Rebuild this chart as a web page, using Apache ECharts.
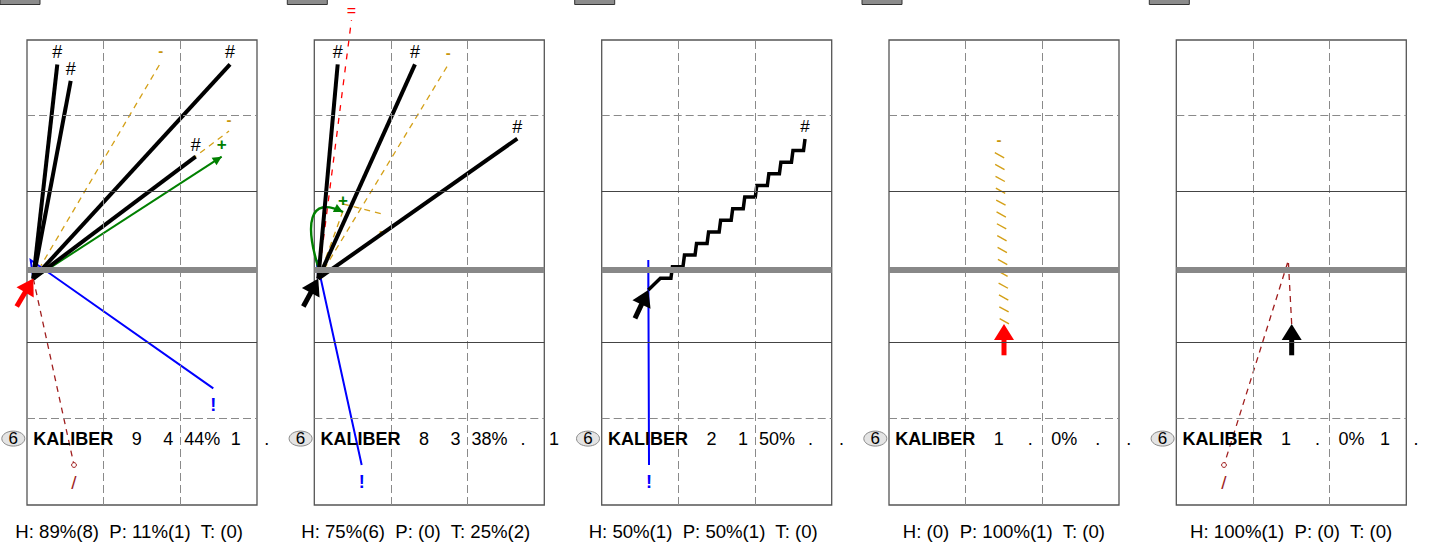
<!DOCTYPE html>
<html><head><meta charset="utf-8">
<script src="https://cdn.jsdelivr.net/npm/echarts@6.0.0/dist/echarts.min.js"></script>
<style>html,body{margin:0;padding:0;background:#fff}#c{width:1430px;height:546px}</style>
</head><body><div id="c"></div>
<script>
// ---------------- data ----------------
const rowTitle = 'KALIBER';
const rowBadge = '6';
const rowStats = [
  ['9', '4', '44%', '1', '.'],
  ['8', '3', '38%', '.', '1'],
  ['2', '1', '50%', '.', '.'],
  ['1', '.', '0%', '.', '.'],
  ['1', '.', '0%', '1', '.']
];
const summaryH = ['89%(8)', '75%(6)', '50%(1)', '(0)', '100%(1)'];
const summaryP = ['11%(1)', '(0)', '50%(1)', '100%(1)', '(0)'];
const summaryT = ['(0)', '25%(2)', '(0)', '(0)', '(0)'];

// field lines (field units: x 0..30, y -1.5..60)
const fieldLineY = [10, 20, 29.6, 40, 50];
const fieldLineYKind = ['dashed', 'solid', 'thick', 'solid', 'dashed'];
const fieldLineX = [10, 20];

// paths: [panel, x1, y1, x2, y2, ...]
const shotPaths = [
  [0, 0.82, 28.44, 3.95, 56.77],
  [0, 0.82, 28.44, 5.70, 54.6],
  [0, 0.82, 28.44, 26.48, 56.77],
  [0, 0.82, 28.44, 22.0, 44.57],
  [1, 0.52, 28.44, 3.05, 56.77],
  [1, 0.52, 28.44, 13.13, 56.77],
  [1, 0.52, 28.44, 26.48, 46.96]
];
const passPaths = [
  [0, 0.82, 28.44, 17.44, 57.0],
  [0, 0.82, 28.44, 26.35, 47.96],
  [1, 0.52, 28.44, 17.48, 56.77],
  [1, 0.52, 28.44, 3.74, 37.38],
  [1, 3.74, 38.31, 8.79, 36.99]
];
const crossPaths = [
  [0, 0.82, 28.44, 25.39, 44.57]
];
// curved cross: start, control 1, control 2, end
const curvedCrossPaths = [
  [1, 0.55, 29.85, -1.21, 35.53, -0.82, 39.5, 3.74, 37.25]
];
const bluePaths = [
  [0, 0.82, 28.44, 0.48, 30.9, 24.3, 13.92],
  [1, 0.52, 28.44, 0.31, 30.9, 6.18, 3.79],
  [2, 6.08, 26.94, 6.08, 30.9, 6.17, 3.79]
];
const liftPaths = [
  [1, 0.52, 28.44, 0.81, 30.64, 4.85, 62.65]
];
const darkPaths = [
  [0, 0.82, 28.44, 6.13, 3.79],
  [4, 15.05, 22.44, 14.61, 30.84, 6.22, 3.79]
];
const dribblePaths = [
  [2, 6.08, 26.94, 26.52, 46.91]
];
const dashedDribblePaths = [
  [3, 15.0, 22.44, 14.35, 45.19]
];
const redCarries = [
  [0, -1.34, 24.75, 0.82, 28.44],
  [3, 15.0, 18.3, 15.0, 22.44]
];
const blackCarries = [
  [1, -1.43, 24.75, 0.52, 28.44],
  [2, 4.34, 23.19, 6.08, 26.94],
  [4, 15.05, 18.3, 15.05, 22.44]
];

// ---------------- styles / layout ----------------
const FONT = '"Liberation Sans", Arial, Helvetica, sans-serif';
const ORANGE = '#D4A017';
const kinds = [
  { list: passPaths, stroke: ORANGE, width: 1.3, dash: [6, 5], label: '-', labelColor: '#C8960C', labelFont: 'bold 15px ' + FONT },
  { list: darkPaths, stroke: '#A01E1E', width: 1.3, dash: [6, 5], label: '/', labelColor: '#A01E1E', labelFont: '19px ' + FONT, endCircle: true },
  { list: liftPaths, stroke: '#FF0000', width: 1.3, dash: [6, 7], label: '=', labelColor: '#FF0000', labelFont: '16px ' + FONT },
  { list: bluePaths, stroke: '#0000FF', width: 2, label: '!', labelColor: '#0000FF', labelFont: 'bold 18px ' + FONT },
  { list: crossPaths, stroke: '#008000', width: 2, arrow: true, label: '+', labelColor: '#008000', labelFont: 'bold 17px ' + FONT },
  { list: curvedCrossPaths, stroke: '#008000', width: 2.4, arrow: true, curve: true, label: '+', labelColor: '#008000', labelFont: 'bold 17px ' + FONT },
  { list: shotPaths, stroke: '#000000', width: 4, label: '#', labelColor: '#000', labelFont: '18px ' + FONT },
  { list: dribblePaths, stroke: '#000000', width: 3.5, stair: true, label: '#', labelColor: '#000', labelFont: '17px ' + FONT },
  { list: dashedDribblePaths, stroke: ORANGE, width: 1.4, wave: true, label: '-', labelColor: '#C8960C', labelFont: 'bold 15px ' + FONT },
  { list: redCarries, stroke: '#FF0000', bigArrow: true },
  { list: blackCarries, stroke: '#000000', bigArrow: true }
];

const panelLeft = [27, 314.3, 601.7, 889, 1176.3];
const GRID_TOP = 40, GRID_W = 230, GRID_H = 465;

function stairs(A, B) {
  const dx = B[0] - A[0], dy = B[1] - A[1];
  const n = Math.max(2, Math.round(Math.hypot(dx, dy) / 16.5));
  const sx = dx / n, sy = dy / n;
  const pts = [A, [A[0] + sx, A[1] + sy]];
  for (let i = 1; i < n; i++) {
    pts.push([A[0] + (i + 1) * sx - 1.5, A[1] + i * sy]);
    pts.push([A[0] + (i + 1) * sx, A[1] + (i + 1) * sy]);
  }
  return pts;
}
function wave(A, B, amp, half) {
  const dx = B[0] - A[0], dy = B[1] - A[1];
  const len = Math.hypot(dx, dy);
  const ux = dx / len, uy = dy / len, nx = -uy, ny = ux;
  const n = Math.max(2, Math.round(len / half));
  const pts = [];
  for (let k = 0; k <= n; k++) {
    const s = (k % 2 === 0 ? 1 : -1) * amp;
    const t = k * len / n;
    pts.push([A[0] + ux * t + nx * s, A[1] + uy * t + ny * s]);
  }
  return { pts, seg: Math.hypot(len / n, 2 * amp) };
}
function head(B, P, hl, hw) {
  const dx = B[0] - P[0], dy = B[1] - P[1], L = Math.hypot(dx, dy);
  const ux = dx / L, uy = dy / L, nx = -uy, ny = ux;
  return [B, [B[0] - ux * hl + nx * hw, B[1] - uy * hl + ny * hw], [B[0] - ux * hl - nx * hw, B[1] - uy * hl - ny * hw]];
}

function renderItem(params, api) {
  const k = kinds[api.value(2)];
  const e = k.list[api.value(3)];
  const pts = [];
  for (let i = 1; i < e.length; i += 2) pts.push(api.coord([e[i], e[i + 1]]));
  const children = [];
  const A = pts[pts.length - 2], B = pts[pts.length - 1];
  if (k.bigArrow) {
    const dx = B[0] - A[0], dy = B[1] - A[1], L = Math.hypot(dx, dy);
    const ux = dx / L, uy = dy / L;
    children.push({ type: 'polyline', shape: { points: [A, [B[0] - ux * 11, B[1] - uy * 11]] },
      style: { stroke: k.stroke, lineWidth: 5, fill: null, lineCap: 'butt' } });
    children.push({ type: 'polygon', shape: { points: head(B, A, 16, 10) }, style: { fill: k.stroke, stroke: null } });
    return { type: 'group', children };
  }
  const lineStyle = { stroke: k.stroke, lineWidth: k.width, lineDash: k.dash || null, fill: null, lineCap: 'butt', lineJoin: 'miter' };
  if (k.curve) {
    children.push({ type: 'bezierCurve', shape: { x1: pts[0][0], y1: pts[0][1], cpx1: pts[1][0], cpy1: pts[1][1], cpx2: pts[2][0], cpy2: pts[2][1], x2: pts[3][0], y2: pts[3][1] }, style: lineStyle });
  } else {
    let path = pts;
    if (k.stair) path = stairs(pts[0], B);
    if (k.wave) { const w = wave(pts[0], B, 5, 6); path = w.pts; lineStyle.lineDash = [w.seg * 0.92, w.seg * 1.08]; }
    children.push({ type: 'polyline', shape: { points: path }, style: lineStyle });
  }
  if (k.arrow) {
    children.push({ type: 'polygon', shape: { points: head(B, A, 9, 4.5) }, style: { fill: k.stroke, stroke: null } });
  }
  if (k.endCircle) {
    children.push({ type: 'circle', shape: { cx: B[0], cy: B[1], r: 2.4 }, style: { fill: '#fff', stroke: k.stroke, lineWidth: 1 } });
  }
  if (k.label) {
    const down = B[1] > A[1] + 1 && !k.curve;
    const ly = down ? B[1] + 17 : Math.max(10, B[1] - 12);
    children.push({ type: 'text', style: {
      text: k.label, x: B[0], y: ly,
      fill: k.labelColor, font: k.labelFont || ('17px ' + FONT), align: 'center', verticalAlign: 'middle' } });
  }
  return { type: 'group', children };
}

const grids = [], xAxes = [], yAxes = [], series = [], graphics = [];
panelLeft.forEach((L, p) => {
  grids.push({ left: L, top: GRID_TOP, width: GRID_W, height: GRID_H, show: true, borderColor: '#555', borderWidth: 1.3, backgroundColor: 'transparent' });
  xAxes.push({ gridIndex: p, type: 'value', min: 0, max: 30, show: false });
  yAxes.push({ gridIndex: p, type: 'value', min: -1.5, max: 60, show: false });
  const mlData = [];
  fieldLineX.forEach(v => mlData.push({ xAxis: v, lineStyle: { type: [8, 4], color: '#8a8a8a', width: 1 } }));
  fieldLineY.forEach((v, i) => {
    const kd = fieldLineYKind[i];
    const ls = kd === 'thick' ? { type: 'solid', color: '#888888', width: 6 }
      : kd === 'solid' ? { type: 'solid', color: '#444', width: 1 }
      : { type: [8, 4], color: '#8a8a8a', width: 1 };
    mlData.push({ yAxis: v, lineStyle: ls });
  });
  series.push({ type: 'line', xAxisIndex: p, yAxisIndex: p, data: [], silent: true, z: 1,
    markLine: { symbol: ['none', 'none'], silent: true, animation: false, label: { show: false }, emphasis: { disabled: true }, data: mlData } });
  const data = [];
  kinds.forEach((k, ki) => k.list.forEach((e, ei) => { if (e[0] === p) data.push([e[1], e[2], ki, ei]); }));
  series.push({ type: 'custom', xAxisIndex: p, yAxisIndex: p, clip: false, silent: true, z: 3, renderItem, data });

  // header stub, badge, row text, summary
  graphics.push({ type: 'rect', shape: { x: L - 27, y: -6, width: 40, height: 10.5 }, style: { fill: '#8c8c8c', stroke: '#333', lineWidth: 1 }, z: 10 });
  graphics.push({ type: 'ellipse', shape: { cx: L - 13.7, cy: 438.6, rx: 11.5, ry: 7.5 }, style: { fill: '#e4e4e4', stroke: '#8a8a8a', lineWidth: 1 }, z: 10 });
  graphics.push({ type: 'text', x: L - 13.7, y: 438.6, style: { text: rowBadge, font: '17px ' + FONT, fill: '#000', align: 'center', verticalAlign: 'middle' }, z: 11 });
  graphics.push({ type: 'text', x: L + 6.3, y: 438.6, style: { text: rowTitle, font: 'bold 18px ' + FONT, fill: '#000', align: 'left', verticalAlign: 'middle' }, z: 11 });
  const colX = [109.7, 141.3, 175.3, 208.7, 239.7];
  rowStats[p].forEach((s, i) => graphics.push({ type: 'text', x: L + colX[i], y: 438.6,
    style: { text: s, font: '18px ' + FONT, fill: '#000', align: 'center', verticalAlign: 'middle' }, z: 11 }));
  graphics.push({ type: 'text', x: L + 216, y: 531,
    style: { text: 'H: ' + summaryH[p] + '  P: ' + summaryP[p] + '  T: ' + summaryT[p], font: '18.6px ' + FONT, fill: '#000', align: 'right', verticalAlign: 'middle' }, z: 11 });
});

const chart = echarts.init(document.getElementById('c'), null, { renderer: 'svg' });
chart.setOption({
  animation: false,
  backgroundColor: '#fff',
  grid: grids, xAxis: xAxes, yAxis: yAxes, series, graphic: graphics
});
</script></body></html>
